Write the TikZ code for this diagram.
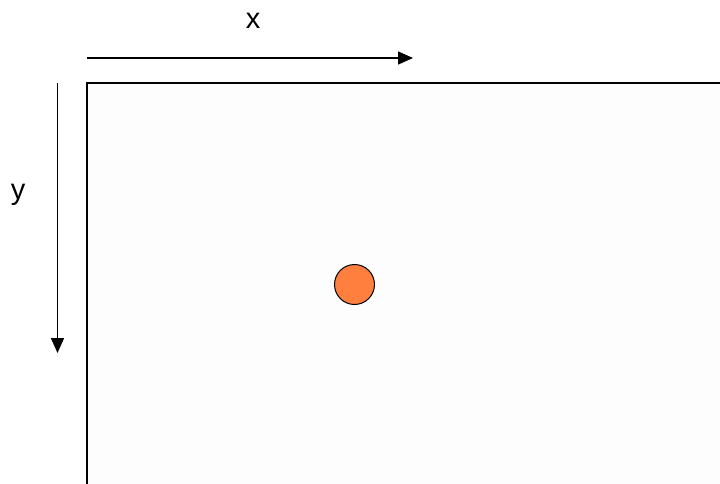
\documentclass[tikz,border=0pt]{standalone}
\usepackage{fontspec}
\setmainfont{Liberation Sans}
\usetikzlibrary{arrows.meta, positioning}
\definecolor{panel}{HTML}{FDFDFD}
\definecolor{ball}{HTML}{FF7F3F}

\begin{document}
\begin{tikzpicture}[x=1pt, y=-1pt, font=\fontsize{29}{34}\selectfont]
        \useasboundingbox (0,0) rectangle (720,484);
        \clip (0,0) rectangle (720,484);
        \fill [white] (0,0) rectangle (720,484);

        \coordinate (corner) at (87,83);
        \draw [line width=2.3pt, fill=panel] (corner) rectangle (740,500);

        \node (ball) [circle, draw, fill=ball, minimum size=40pt, inner sep=0pt, line width=1pt] at (354.5,284.5) {};

        \coordinate (xs) at (87,58);
        \coordinate (xe) at (413,58);
        \coordinate (ys) at (57.5,83);
        \coordinate (ye) at (57.5,353);
        \draw [-{Triangle[length=15pt, width=13pt]}, line width=1.6pt] (xs) -- (xe);
        \draw [-{Triangle[length=15pt, width=13pt]}, line width=1.6pt] (ys) -- (ye);

        \node (xlab) at (253,21) {x};
        \node (ylab) at (18,195) {y};
    \end{tikzpicture}
\end{document}
